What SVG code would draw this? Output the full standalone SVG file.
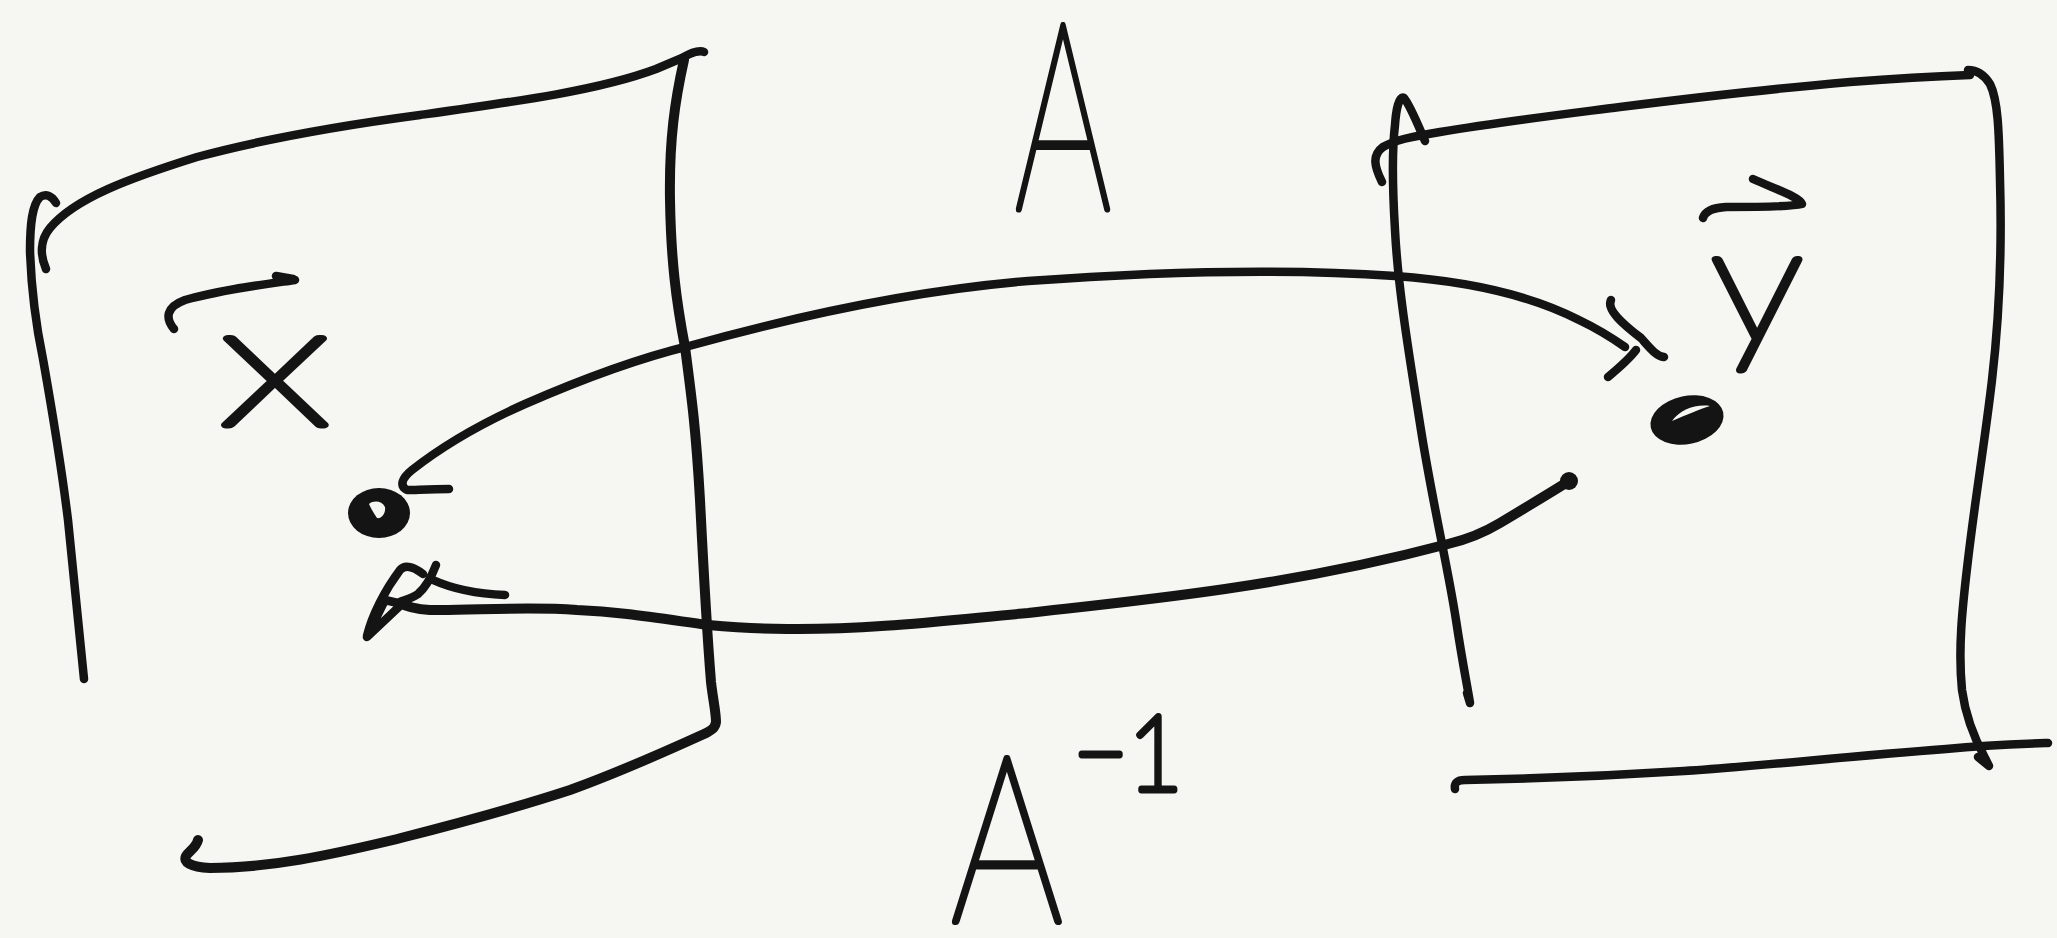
<svg xmlns="http://www.w3.org/2000/svg" width="2057" height="938" viewBox="0 0 2057 938">
<style>
.s{fill:none;stroke:#141414;stroke-width:8.5;stroke-linecap:round;stroke-linejoin:round}
.t{stroke-width:10}
.f{fill:#141414}
.hl{fill:#f6f7f2}
.lbl{font-family:Lato,"Liberation Sans",sans-serif;font-weight:100;fill:#141414;stroke:#141414;stroke-width:7;stroke-linejoin:round;stroke-linecap:round}
</style>
<rect width="2057" height="938" fill="#f6f7f2"/>
<g id="plane-x">
<path class="s" d="M56,203 C52,196 46,193 40,197 C32,205 30,225 30,251 C31,280 33,311 43,359 C52,410 60,455 68,520 C74,580 79,630 84,679"/>
<path class="s" d="M46,269 C40,255 40,240 50,228 C75,198 130,178 197,157 C260,140 330,127 420,115 C520,101 600,90 656,69 L682,58 C692,52 700,50 704,52"/>
<path class="s t" d="M684,60 C675,100 669,140 670,200 C671,260 676,300 685,347 C692,400 696,430 700,500 C703,560 706,620 711,682 C713,700 716,712 716,722 C715,729 710,731 704,734 C660,754 620,772 570,790 C500,813 440,828 393,840 C330,855 270,868 210,868 C190,867 183,862 186,856 C189,851 196,848 198,840"/>
</g>
<g id="plane-y">
<path class="s" d="M1425,141 C1418,125 1410,105 1404,98 C1399,95 1396,110 1395,125 C1392,150 1392,180 1395,230 C1398,290 1410,360 1421,430 C1432,500 1448,568 1456,620 C1462,660 1468,690 1470,703 L1467,693"/>
<path class="s" d="M1382,182 C1374,166 1372,155 1383,147 C1395,140 1410,137 1440,132 C1500,122 1550,116 1620,107 C1700,97 1780,88 1850,82 C1900,78 1940,76 1970,75"/>
<path class="s" d="M1968,70 C1978,70 1985,76 1990,84 C1998,100 1999,130 2000,180 C2002,250 1999,320 1992,380 C1985,440 1975,500 1968,560 C1962,610 1958,650 1962,690 C1966,720 1978,745 1985,758 L1989,766 L1978,757"/>
<path class="s" d="M1455,789 C1454,783 1457,780 1465,780 C1520,779 1590,777 1684,771 C1760,766 1840,757 1946,749 C1990,745 2020,744 2048,743"/>
</g>
<g id="label-A">
<text class="lbl" font-size="262" text-anchor="middle" transform="translate(1063,209) scale(0.58,1)">A</text>
</g>
<g id="label-Ainv">
<text class="lbl" font-size="232" text-anchor="middle" transform="translate(1007,922) scale(0.76,1)">A</text>
<text class="lbl" font-size="105" text-anchor="middle" transform="translate(1128,790) scale(0.9,1)">−1</text>
</g>
<g id="vec-x">
<text class="lbl" font-size="176" text-anchor="middle" transform="translate(275,425) scale(1.45,1)">x</text>
<path class="s" d="M174,329 C165,318 166,307 185,300 C220,290 260,285 295,280 M276,276 L293,279"/>
</g>
<g id="vec-y">
<text class="lbl" font-size="165" text-anchor="middle" transform="translate(1757,340) scale(1.15,1)">y</text>
<path class="s" d="M1703,218 C1705,211 1712,208 1726,207 C1760,207 1790,207 1802,204 C1800,197 1775,189 1753,179"/>
</g>
<g id="point-x">
<ellipse class="f" cx="379" cy="513" rx="31" ry="25"/>
<path class="hl" d="M369,504 C374,500 382,501 385,507 C386,514 381,519 377,518 C374,513 371,509 369,504 Z"/>
</g>
<g id="point-y">
<ellipse class="f" cx="1687" cy="420" rx="37" ry="24" transform="rotate(-12 1687 420)"/>
<path class="hl" d="M1672,421 C1680,410 1695,404 1710,406 C1700,409 1686,415 1672,421 Z"/>
</g>
<g id="connectors">
<path class="s" d="M449,489 C430,489 415,490 407,490 C399,486 402,478 412,470 C440,448 480,424 525,404 C580,380 640,358 689,346 C800,315 920,290 1028,281 C1150,272 1280,268 1395,276 C1480,282 1540,300 1579,320 C1600,330 1615,340 1625,347"/>
<path class="s" d="M1611,300 C1606,310 1624,325 1641,338 C1650,348 1656,356 1664,357" stroke-width="12"/>
<path class="s" d="M1608,377 C1620,367 1630,358 1636,350"/>
<path class="s t" d="M1569,481 C1555,490 1530,505 1500,523 C1480,535 1465,540 1448,544 C1380,562 1300,578 1225,589 C1150,600 1080,607 1028,613 C950,620 870,630 787,629 C760,629 730,627 708,625 C650,617 620,612 577,610 C520,606 470,611 430,610 C415,609 405,606 400,603"/>
<circle class="f" cx="1569" cy="481" r="9"/>
<path class="s" d="M367,636 C372,615 385,590 400,570 C405,564 414,567 423,574"/>
<path class="s" d="M436,565 C431,578 425,588 418,594 C412,598 405,600 400,602"/>
<path class="s" d="M505,595 C480,594 455,590 433,580"/>
<path class="s" d="M402,604 L367,637 L385,600 Z"/>
</g>
</svg>
